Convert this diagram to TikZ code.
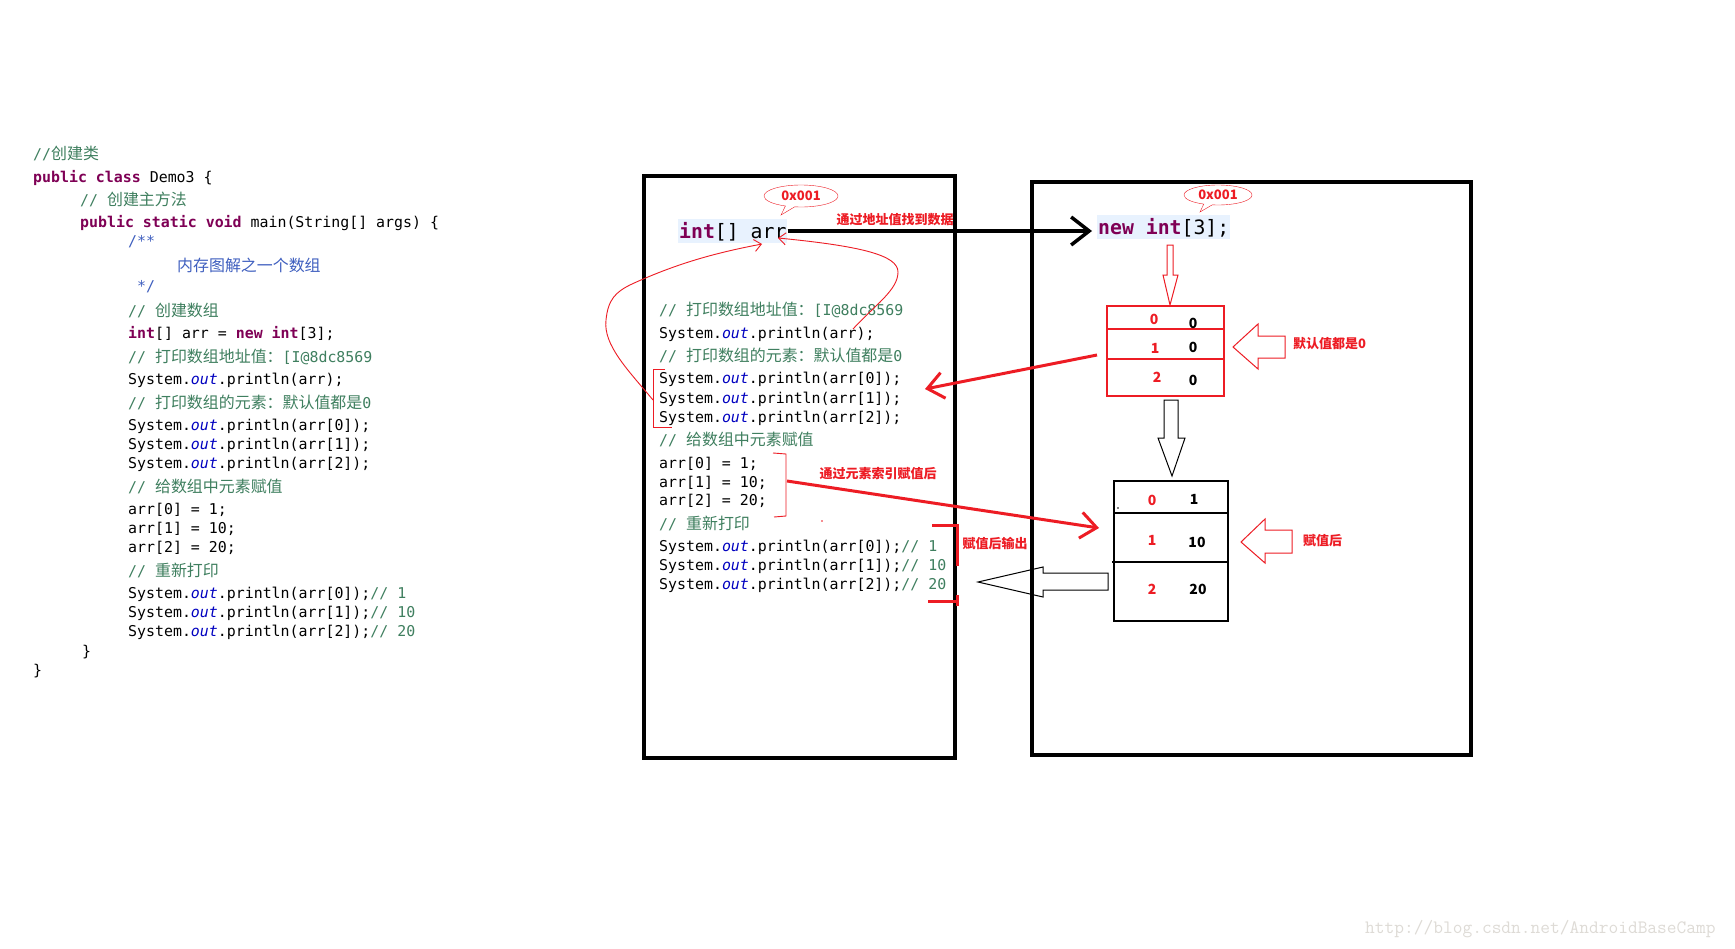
\documentclass[tikz,border=0pt]{standalone}
\usepackage{fontspec}
\usetikzlibrary{positioning}
\usetikzlibrary{shapes.callouts}
\usetikzlibrary{arrows.meta}
\newfontfamily\codefont{DejaVu Sans Mono}
\newfontfamily\cjk{Noto Sans CJK SC}[Scale=1.07]
\newfontfamily\lblfont{Noto Sans CJK SC}
\definecolor{kwd}{HTML}{7F0055}
\definecolor{cmtc}{HTML}{3F7F5F}
\definecolor{doc}{HTML}{3F5FBF}
\definecolor{fld}{HTML}{0000C0}
\definecolor{hilite}{HTML}{E8F2FE}
\definecolor{penred}{HTML}{ED1C24}
\definecolor{wmgray}{HTML}{DEDBD6}
\newcommand{\kw}[1]{{\bfseries\color{kwd}#1}}
\newcommand{\cmt}[1]{{\color{cmtc}#1}}
\newcommand{\zh}[1]{{\cjk #1}}
\newcommand{\outf}{{\itshape\color{fld}out}}
\tikzset{
    code/.style = {anchor=base west, inner sep=0pt, font=\codefont\fontsize{14.9pt}{18pt}\selectfont},
    bigcode/.style = {anchor=base west, inner xsep=1pt, inner ysep=0pt, text height=19pt, text depth=5pt, fill=hilite, font=\codefont\fontsize{19.8pt}{24pt}\selectfont},
    bubble/.style = {ellipse callout, draw=penred, thin, inner sep=0pt, text=penred, font=\lblfont\bfseries\fontsize{13pt}{15pt}\selectfont},
    note/.style = {inner sep=0pt, text=penred, font=\lblfont\bfseries\fontsize{13pt}{15pt}\selectfont},
    cellidx/.style = {inner sep=0pt, text=penred, font=\lblfont\bfseries\fontsize{14pt}{16pt}\selectfont},
    cellval/.style = {inner sep=0pt, font=\lblfont\bfseries\fontsize{14pt}{16pt}\selectfont},
    memframe/.style = {draw, line width=3.3pt},
    arrbox/.style = {draw, rectangle, inner sep=0pt, line width=1.2pt},
    hollow/.style = {line width=1pt, line join=miter},
    fatred/.style = {draw=penred, line width=3pt, -{Straight Barb[length=16pt,width=26pt]}},
    thinred/.style = {draw=penred, line width=0.9pt}}
\begin{document}
\begin{tikzpicture}[x=1pt,y=-1pt]
    \fill[white] (0,0) rectangle (1735,948);
    \useasboundingbox (0,0) rectangle (1735,948);
    % stack and heap
    \draw[memframe] (644,176) rectangle (955,758);
    \draw[memframe] (1032,182) rectangle (1471,755);
    % source listing
    \path (33,159) node[code] (l1) {\cmt{//\zh{创建类}}}
        + (0,23) node[code] (l2) {\kw{public} \kw{class} Demo3 \{}
        + (47,46) node[code] (l3) {\cmt{// \zh{创建主方法}}}
        + (47,68) node[code] (l4) {\kw{public} \kw{static} \kw{void} main(String[] args) \{}
        + (95,87) node[code] (l5) {\textcolor{doc}{/**}}
        + (144,112) node[code] (l6) {\textcolor{doc}{\zh{内存图解之一个数组}}}
        + (104,132) node[code] (l7) {\textcolor{doc}{*/}}
        + (95,157) node[code] (l8) {\cmt{// \zh{创建数组}}}
        + (95,179) node[code] (l9) {\kw{int}[] arr = \kw{new} \kw{int}[3];}
        + (95,203) node[code] (l10) {\cmt{// \zh{打印数组地址值：}[I@8dc8569}}
        + (95,225) node[code] (l11) {System.\outf.println(arr);}
        + (95,249) node[code] (l12) {\cmt{// \zh{打印数组的元素：默认值都是}0}}
        + (95,271) node[code] (l13) {System.\outf.println(arr[0]);}
        + (95,290) node[code] (l14) {System.\outf.println(arr[1]);}
        + (95,309) node[code] (l15) {System.\outf.println(arr[2]);}
        + (95,333) node[code] (l16) {\cmt{// \zh{给数组中元素赋值}}}
        + (95,355) node[code] (l17) {arr[0] = 1;}
        + (95,374) node[code] (l18) {arr[1] = 10;}
        + (95,393) node[code] (l19) {arr[2] = 20;}
        + (95,417) node[code] (l20) {\cmt{// \zh{重新打印}}}
        + (95,439) node[code] (l21) {System.\outf.println(arr[0]);\cmt{// 1}}
        + (95,458) node[code] (l22) {System.\outf.println(arr[1]);\cmt{// 10}}
        + (95,477) node[code] (l23) {System.\outf.println(arr[2]);\cmt{// 20}}
        + (49,497) node[code] (l24) {\}}
        + (0,516) node[code] (l25) {\}};
    % stack side
    \node[bigcode] (arrvar) at (678,238) {\kw{int}[] arr};
    \path (659,315) node[code] (s1) {\cmt{// \zh{打印数组地址值：}[I@8dc8569}}
        + (0,23) node[code] (s2) {System.\outf.println(arr);}
        + (0,46) node[code] (s3) {\cmt{// \zh{打印数组的元素：默认值都是}0}}
        + (0,68) node[code] (s4) {System.\outf.println(arr[0]);}
        + (0,88) node[code] (s5) {System.\outf.println(arr[1]);}
        + (0,107) node[code] (s6) {System.\outf.println(arr[2]);}
        + (0,130) node[code] (s7) {\cmt{// \zh{给数组中元素赋值}}}
        + (0,153) node[code] (s8) {arr[0] = 1;}
        + (0,172) node[code] (s9) {arr[1] = 10;}
        + (0,190) node[code] (s10) {arr[2] = 20;}
        + (0,214) node[code] (s11) {\cmt{// \zh{重新打印}}}
        + (0,236) node[code] (s12) {System.\outf.println(arr[0]);\cmt{// 1}}
        + (0,255) node[code] (s13) {System.\outf.println(arr[1]);\cmt{// 10}}
        + (0,274) node[code] (s14) {System.\outf.println(arr[2]);\cmt{// 20}};
    % heap side
    \node[bigcode] (newarr) at (1097,234) {\kw{new} \kw{int}[3];};
    \node[arrbox, draw=penred, minimum width=117pt, minimum height=90pt] (zeros) at (1165.5,351) {};
    \draw[penred, line width=1.2pt] (1107,329) -- (1224,329) (1107,359) -- (1224,359);
    \node[cellidx] (z0i) at (1154,319) {0};
    \node[cellval] (z0v) at (1193,323) {0};
    \node[cellidx] (z1i) at (1155,348) {1};
    \node[cellval] (z1v) at (1193,347) {0};
    \node[cellidx] (z2i) at (1157,377) {2};
    \node[cellval] (z2v) at (1193,380) {0};
    \node[arrbox, minimum width=114pt, minimum height=140pt] (filled) at (1171,551) {};
    \draw[line width=1.2pt] (1114,513) -- (1228,513) (1112,562) -- (1228,562);
    \node[cellidx] (f0i) at (1152,500) {0};
    \node[cellval] (f0v) at (1194,499) {1};
    \node[cellidx] (f1i) at (1152,540) {1};
    \node[cellval] (f1v) at (1197,542) {10};
    \node[cellidx] (f2i) at (1152,589) {2};
    \node[cellval] (f2v) at (1198,589) {20};
    \fill (1118,508) circle (0.8);
    \fill[penred] (822,521) circle (0.8);
    % address bubbles
    \coordinate (tipA) at (781,215);
    \coordinate (tipB) at (1200,212);
    \node[bubble, minimum width=74pt, minimum height=22pt, callout absolute pointer={(tipA)}] (addrA) at (801,196) {0x001};
    \node[bubble, minimum width=68pt, minimum height=20pt, callout absolute pointer={(tipB)}] (addrB) at (1218,195) {0x001};
    % reference arrow
    \draw[line width=3.5pt, -{Straight Barb[length=18pt,width=28pt]}] (arrvar.east) -- ([xshift=-5pt]arrvar.east -| newarr.west);
    % hollow arrows
    \draw[hollow, penred] (1167,245) -- (1167,275) -- (1163,275) -- (1170,305) -- (1178,275) -- (1173,275) -- (1173,245) -- cycle;
    \draw[hollow] (1164,400) -- (1164,438) -- (1158,438) -- (1172,476) -- (1185,438) -- (1178,438) -- (1178,400) -- cycle;
    \draw[hollow, penred] (1285,336) -- (1258,336) -- (1258,324) -- (1233,347) -- (1258,369) -- (1258,358) -- (1285,358) -- cycle;
    \draw[hollow, penred] (1292,530) -- (1265,530) -- (1265,519) -- (1241,542) -- (1265,563) -- (1265,553) -- (1292,553) -- cycle;
    \draw[hollow] (1108,573) -- (1043,573) -- (1043,567) -- (978,582) -- (1043,597) -- (1043,590) -- (1108,590) -- cycle;
    % brackets
    \draw[thinred] (665,369) -- (653,369) -- (653,427) -- (672,427);
    \draw[thinred] (773,453) -- (786,454) -- (786,516) -- (774,517);
    \draw[penred, line width=3pt] (932,525) -- (957,525) -- (957,566) (928,601) -- (959,601) (957,595) -- (957,606);
    % red pointers
    \coordinate (readS) at (1097,355);
    \coordinate (readT) at (925,389);
    \coordinate (asgS) at (787,481);
    \coordinate (asgT) at (1099,528);
    \draw[fatred] (readS) -- (readT);
    \draw[fatred] (asgS) -- (asgT);
    \coordinate (loopA) at (653,400);
    \coordinate (loopB) at (853,329);
    \draw[thinred, -{Straight Barb[length=7pt,width=12pt]}] (loopA) .. controls (628,370) and (603,345) .. (606,320)
        .. controls (608,300) and (615,292) .. (632,284) .. controls (680,262) and (720,252) .. (762,244);
    \draw[thinred, -{Straight Barb[length=7pt,width=12pt]}] (loopB) .. controls (875,305) and (898,290) .. (898,272)
        .. controls (898,255) and (860,246) .. (778,238);
    % notes
    \node[note] (findnote) at (895,220) {通过地址值找到数据};
    \node[note, anchor=west] (zeronote) at (1293,344) {默认值都是0};
    \node[note] (asgnote) at (878,474) {通过元素索引赋值后};
    \node[note] (outnote) at (995,544) {赋值后输出};
    \node[note, anchor=west] (afternote) at (1303,541) {赋值后};
    \node[anchor=base west, inner sep=0pt, text=wmgray, font=\ttfamily\fontsize{18.9pt}{20pt}\selectfont] (wm) at (1365,933) {http://blog.csdn.net/AndroidBaseCamp};
\end{tikzpicture}
\end{document}
